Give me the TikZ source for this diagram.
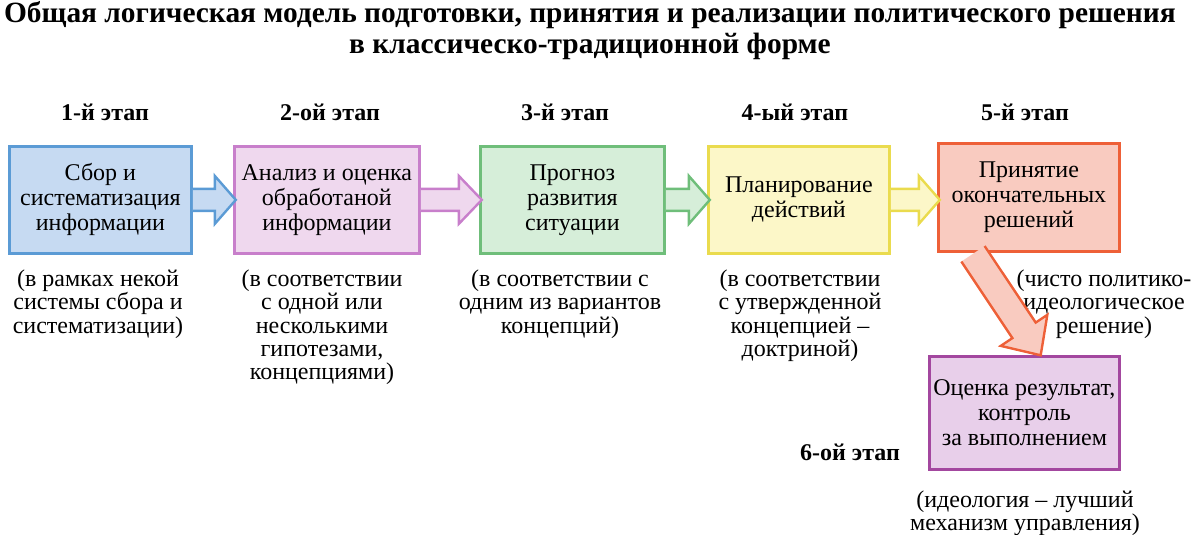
\documentclass[tikz,border=0pt]{standalone}
\usepackage{fontspec}
\setmainfont{Liberation Serif}
\usetikzlibrary{positioning,calc}
\definecolor{blueF}{HTML}{C6DAF2}\definecolor{blueD}{HTML}{5B9BD5}
\definecolor{purF}{HTML}{EFD8EE}\definecolor{purD}{HTML}{C87FCB}
\definecolor{grnF}{HTML}{D6EED9}\definecolor{grnD}{HTML}{6FBE7A}
\definecolor{yelF}{HTML}{FCF7C8}\definecolor{yelD}{HTML}{EADB4E}
\definecolor{redF}{HTML}{F9CBC0}\definecolor{redD}{HTML}{EE6038}
\definecolor{vioF}{HTML}{E8CFEA}\definecolor{vioD}{HTML}{A3479F}
\tikzset{
  stagebox/.style={draw=#1D, fill=#1F, line width=1.4pt, align=center, inner sep=0pt,
    font=\fontsize{12}{12.5}\selectfont},
  stagelabel/.style={font=\fontsize{12}{13}\selectfont\bfseries},
  note/.style={align=center, font=\fontsize{12}{11.6}\selectfont, anchor=north}
}
% fat arrow: start, length, angle, half shaft, half head, head length, colour
\newcommand\fatarrow[7]{%
  \begin{scope}[shift={(#1)}, rotate=#3]
    \draw[draw=#7D, fill=#7F, line width=1.2pt, line join=miter]
      (0,#4) -- (#2-#6,#4) -- (#2-#6,#5) -- (#2,0) -- (#2-#6,-#5)
      -- (#2-#6,-#4) -- (0,-#4);
  \end{scope}}
\begin{document}
\begin{tikzpicture}[x=0.5pt,y=-0.5pt]
\useasboundingbox (0,0) rectangle (1200,535);
% ----------------- Title -----------------
\node (title) [align=center, font=\fontsize{14.7}{15.5}\selectfont\bfseries] at (590,31)
  {Общая логическая модель подготовки, принятия и реализации политического решения\\
   в классическо-традиционной форме};

% ----------------- Boxes -----------------
\node (sbor) [stagebox=blue, minimum width=91pt, minimum height=53.5pt, anchor=north west] at (8,145)
  {Сбор и\\систематизация\\информации};
\node (analiz) [stagebox=pur, minimum width=92.5pt, minimum height=53.5pt, anchor=north west] at (233,145)
  {Анализ и оценка\\обработаной\\информации};
\node (prognoz) [stagebox=grn, minimum width=92pt, minimum height=53.5pt, anchor=north west] at (479,145)
  {Прогноз\\развития\\ситуации};
\node (plan) [stagebox=yel, minimum width=90.5pt, minimum height=53.5pt, anchor=north west] at (707,145)
  {Планирование\\действий};
\node (prinyatie) [stagebox=red, minimum width=90.5pt, minimum height=54pt, anchor=north west] at (937,142)
  {Принятие\\окончательных\\решений};
\node (ocenka) [stagebox=vio, minimum width=95pt, minimum height=56.5pt, anchor=north west] at (928,355)
  {Оценка результат,\\контроль\\за выполнением};

% ----------------- Stage labels -----------------
\node (et1) [stagelabel] at (105,112) {1-й этап};
\node (et2) [stagelabel] at (330,112) {2-ой этап};
\node (et3) [stagelabel] at (565,112) {3-й этап};
\node (et4) [stagelabel] at (795,112) {4-ый этап};
\node (et5) [stagelabel] at (1025,112) {5-й этап};
\node (et6) [stagelabel] at (850,452) {6-ой этап};

% ----------------- Notes -----------------
\node (n1) [note] at (98,263) {(в рамках некой\\системы сбора и\\систематизации)};
\node (n2) [note] at (322,263) {(в соответствии\\с одной или\\несколькими\\гипотезами,\\концепциями)};
\node (n3) [note] at (560,263) {(в соответствии с\\одним из вариантов\\концепций)};
\node (n4) [note] at (800,263) {(в соответствии\\с утвержденной\\концепцией –\\доктриной)};
\node (n5) [note] at (1104,263) {(чисто политико-\\идеологическое\\решение)};
\node (n6) [note] at (1025,484) {(идеология – лучший\\механизм управления)};

% ----------------- Arrows -----------------
\coordinate (a1) at (sbor.east);   \fatarrow{a1}{43}{0}{11}{24}{21}{blue}
\coordinate (a2) at (analiz.east); \fatarrow{a2}{61}{0}{11}{24}{23}{pur}
\coordinate (a3) at (prognoz.east);\fatarrow{a3}{44}{0}{11}{24}{21}{grn}
\coordinate (a4) at (plan.east);   \fatarrow{a4}{49}{0}{11}{24}{21}{yel}
\coordinate (a5) at ($(prinyatie.south west)+(36,1)$);
\fatarrow{a5}{122}{-56.3}{14}{28}{30}{red}
\end{tikzpicture}
\end{document}
